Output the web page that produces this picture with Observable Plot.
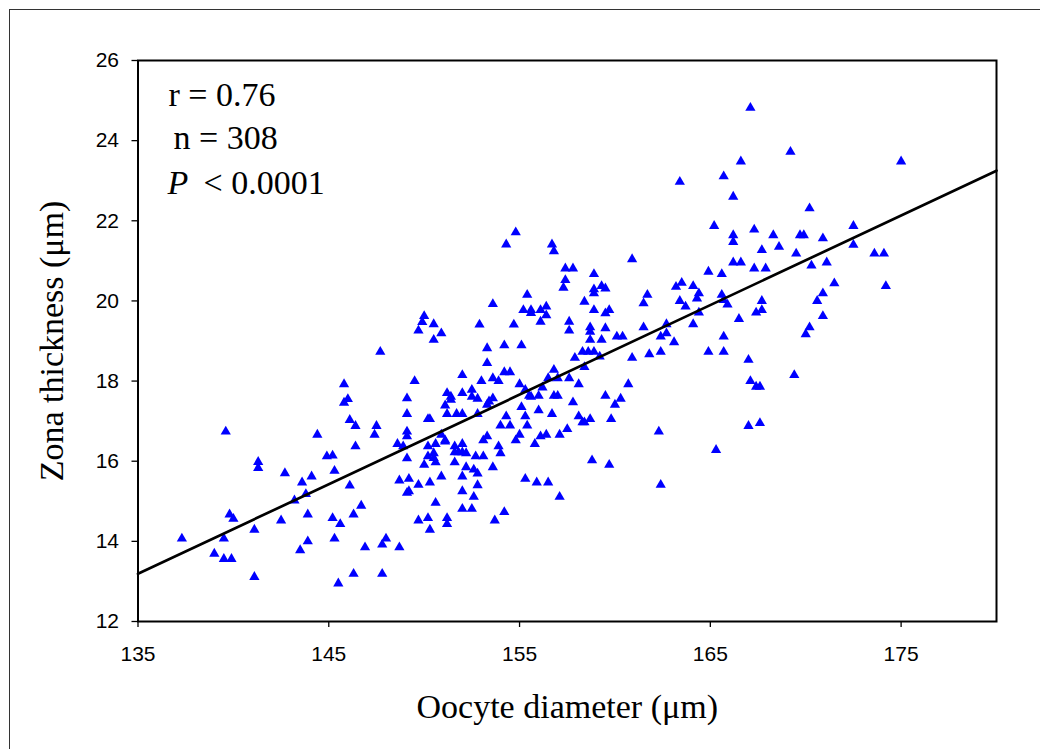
<!DOCTYPE html>
<html>
<head>
<meta charset="utf-8">
<script src="https://cdn.jsdelivr.net/npm/d3@7"></script>
<script src="https://cdn.jsdelivr.net/npm/@observablehq/plot@0.6"></script>
<style>
  html, body { margin: 0; padding: 0; background: #fff; overflow: hidden; width: 1040px; height: 749px; }
  #border { position: absolute; left: 9px; top: 9px; width: 1100px; height: 800px; border: 1px solid #333; box-sizing: border-box; }
  #chart { position: absolute; left: 0; top: 0; }
</style>
</head>
<body>
<div id="border"></div>
<div id="chart"></div>
<script>
// ---- data ----
const xTitle = "Oocyte diameter (μm)";
const yTitle = "Zona thickness (μm)";
const xTicks = [135, 145, 155, 165, 175];
const yTicks = [12, 14, 16, 18, 20, 22, 24, 26];
const statLines = ["r = 0.76", "n = 308"];
const pLabel = "P";
const pValue = "< 0.0001";
// regression line end points (diameter, thickness)
const fitDiameter = [135, 180];
const fitThickness = [13.19, 23.25];
// [oocyte diameter (µm), zona thickness (µm)]
const points = [
[167.1,24.82],[169.2,23.72],[175.0,23.48],[166.6,23.48],[163.4,22.97],[165.7,23.11],[166.2,22.60],[170.2,22.31],[165.2,21.87],[167.3,21.78],[166.2,21.64],[166.2,21.47],[168.3,21.64],[169.7,21.64],[169.9,21.64],[170.9,21.56],[172.5,21.87],[172.5,21.40],[167.7,21.27],[168.6,21.35],[169.5,21.18],[173.6,21.18],[174.1,21.18],[166.2,20.96],[166.6,20.96],[167.3,20.81],[167.9,20.81],[170.3,20.88],[171.1,20.96],[164.9,20.73],[165.6,20.67],[163.2,20.35],[163.5,20.45],[164.1,20.37],[171.5,20.44],[174.2,20.37],
[161.7,20.15],[161.5,19.94],[163.4,20.00],[163.7,19.86],[164.4,20.19],[164.3,20.06],[165.6,20.15],[165.7,20.02],[165.9,19.91],[167.7,20.00],[167.7,19.77],[167.4,19.71],[170.6,20.00],[170.9,20.19],[170.9,19.62],[170.2,19.34],[170.0,19.17],[161.5,19.34],[164.4,19.71],[162.7,19.42],[162.4,19.11],[162.7,19.19],[164.1,19.42],[166.5,19.55],[163.1,18.97],[165.7,19.11],[161.8,18.67],[162.4,18.73],[164.9,18.73],[165.7,18.73],[167.0,18.53],[169.4,18.15],[167.1,18.00],[167.4,17.86],[167.6,17.86],[167.0,16.88],[167.6,16.95],[162.3,16.74],[165.3,16.28],[162.4,15.41],
[154.8,21.71],[154.3,21.41],[156.7,21.41],[156.8,21.24],[160.9,21.04],[157.4,20.81],[157.8,20.81],[158.9,20.67],[157.4,20.52],[157.3,20.33],[159.3,20.37],[159.5,20.31],[158.9,20.29],
[147.7,18.73],[145.8,17.92],[146.0,17.55],[145.8,17.46],[146.1,17.03],[146.4,16.88],[147.5,16.88],[147.4,16.66],[139.6,16.74],[144.4,16.66],[146.4,16.37],[148.6,16.43],[144.9,16.12],[145.2,16.14],[141.3,15.98],
[141.3,15.83],[142.7,15.70],[143.6,15.47],[144.1,15.62],[145.3,15.76],[146.1,15.39],[148.7,15.52],[143.8,15.18],[143.2,15.02],[146.7,14.89],[139.8,14.67],[140.0,14.56],[143.9,14.67],[145.2,14.58],[145.6,14.43],[146.3,14.67],[142.5,14.52],[141.1,14.29],[137.3,14.07],[139.5,14.07],[143.9,14.00],[143.5,13.78],[145.3,14.07],[148.0,14.07],[147.8,13.92],[146.9,13.85],[148.7,13.85],[139.0,13.69],[139.5,13.56],[139.9,13.56],[141.1,13.11],[146.3,13.19],[147.8,13.19],[145.5,12.95],
[150.0,15.91],[150.6,15.97],[151.6,15.97],[152.2,15.85],[152.6,15.79],[152.8,15.69],[153.6,15.85],[159.7,15.91],[149.2,15.56],[149.7,15.41],[150.3,15.47],[150.9,15.62],[152.0,15.62],[152.8,15.40],[152.6,15.11],[152.0,15.25],[155.3,15.56],[155.9,15.47],[156.5,15.47],[157.1,15.11],[149.1,15.21],[149.2,15.25],[150.6,14.96],[152.0,14.81],[152.5,14.81],[154.2,14.73],[153.7,14.52],[149.7,14.52],[150.2,14.58],[151.2,14.58],[151.2,14.43],[150.3,14.29],
[155.4,20.15],[153.6,19.92],[158.4,19.98],[158.9,20.19],[155.2,19.77],[155.6,19.77],[155.6,19.70],[156.1,19.77],[156.4,19.86],[156.4,19.64],
[156.1,19.48],[158.9,19.77],[159.5,19.69],[159.7,19.77],[150.0,19.62],[149.9,19.47],[149.7,19.26],[150.5,19.42],[150.5,19.03],[150.9,19.19],
[152.9,19.41],[154.7,19.41],[157.6,19.48],[157.6,19.26],[158.7,19.34],[158.7,19.23],[158.7,19.03],[159.5,19.32],[159.3,19.03],[160.1,19.11],
[160.4,19.11],[153.3,18.82],[154.2,18.89],[155.1,18.89],[158.3,18.73],[158.6,18.73],[158.9,18.73],[157.9,18.58],[159.2,18.61],[160.9,18.58],
[153.3,18.45],[158.4,18.35],[156.8,18.28],[152.0,18.15],[154.2,18.22],[154.5,18.22],[149.5,18.00],[153.0,18.00],[153.6,18.07],[153.9,18.00],
[156.5,18.07],[157.0,18.07],[157.6,18.07],[155.0,17.92],[158.1,17.92],[160.7,17.92],[156.2,17.84],[155.3,17.78],[151.2,17.70],[151.4,17.61],
[151.4,17.53],[152.0,17.70],[152.5,17.78],[152.5,17.61],[152.8,17.56],[153.6,17.57],[153.4,17.49],[153.3,17.41],[155.5,17.63],[155.6,17.61],
[156.0,17.63],[156.8,17.63],[157.0,17.63],[157.8,17.47],[159.5,17.63],[160.3,17.56],[160.0,17.41],[151.1,17.39],[155.1,17.35],[149.1,17.57],
[149.1,17.18],[150.2,17.05],[150.3,17.05],[151.2,17.18],[151.7,17.18],[152.0,17.18],[152.8,17.18],[154.3,17.12],[156.0,17.27],[156.7,17.18],
[155.3,17.12],[158.1,17.12],[158.7,17.05],[158.4,16.97],[158.3,16.97],[159.8,17.05],[154.0,16.89],[154.5,16.89],[155.4,16.89],[149.1,16.74],
[149.1,16.62],[150.9,16.66],[151.1,16.52],[153.3,16.62],[153.1,16.52],[155.0,16.66],[154.8,16.52],[156.4,16.66],[156.1,16.62],[157.1,16.66],
[157.5,16.80],[155.8,16.43],[148.9,16.37],[150.2,16.37],[150.6,16.43],[151.1,16.49],[151.6,16.37],[152.0,16.43],[151.6,16.22],[151.8,16.22],
[152.0,16.22],[152.2,16.20],[150.5,16.20],[150.2,16.12],[150.5,16.08],[153.9,16.37],[154.0,16.20],[158.8,16.02],[152.7,16.12],[153.1,16.12],
[149.1,16.07]
];

// ---- chart ----
const serif = "'Liberation Serif', 'Times New Roman', Times, serif";
const sans = "'Liberation Sans', Arial, Helvetica, sans-serif";
const fit = fitDiameter.map((d, i) => ({d, t: fitThickness[i]}));

const statText = (text, dx, dy, extra = {}) =>
  Plot.text([text], {frameAnchor: "top-left", dx, dy, textAnchor: "start", lineAnchor: "bottom", fontFamily: serif, fontSize: 34, ...extra});

const chart = Plot.plot({
  width: 1040,
  height: 749,
  marginLeft: 137.5,
  marginRight: 44,
  marginTop: 60,
  marginBottom: 128,
  x: {domain: [135, 180]},
  y: {domain: [12, 26]},
  style: {fontFamily: sans, fontSize: "21px", color: "#000", background: "transparent", overflow: "visible"},
  marks: [
    Plot.axisX({ticks: xTicks, tickSize: 6, tickPadding: 19, label: null, fontSize: 21, strokeWidth: 1.3}),
    Plot.axisY({ticks: yTicks, tickSize: 6, tickPadding: 13, label: null, fontSize: 21, strokeWidth: 1.3}),
    Plot.dot(points, {x: d => d[0], y: d => d[1], symbol: "triangle", r: 3.8, fill: "#0000ff", stroke: "none"}),
    Plot.line(fit, {x: "d", y: "t", stroke: "#000", strokeWidth: 2.7}),
    Plot.frame({stroke: "#000", strokeWidth: 2}),
    statText(statLines[0], 30.5, 45),
    statText(statLines[1], 35.5, 88),
    statText(pLabel, 29.5, 133, {fontStyle: "italic"}),
    statText(pValue, 65.5, 133),
    Plot.text([xTitle], {frameAnchor: "bottom", dy: 96, textAnchor: "middle", lineAnchor: "bottom", fontFamily: serif, fontSize: 34}),
    Plot.text([yTitle], {frameAnchor: "left", dx: -75.5, rotate: -90, textAnchor: "middle", lineAnchor: "bottom", fontFamily: serif, fontSize: 34})
  ]
});

document.getElementById("chart").append(chart);
</script>
</body>
</html>
